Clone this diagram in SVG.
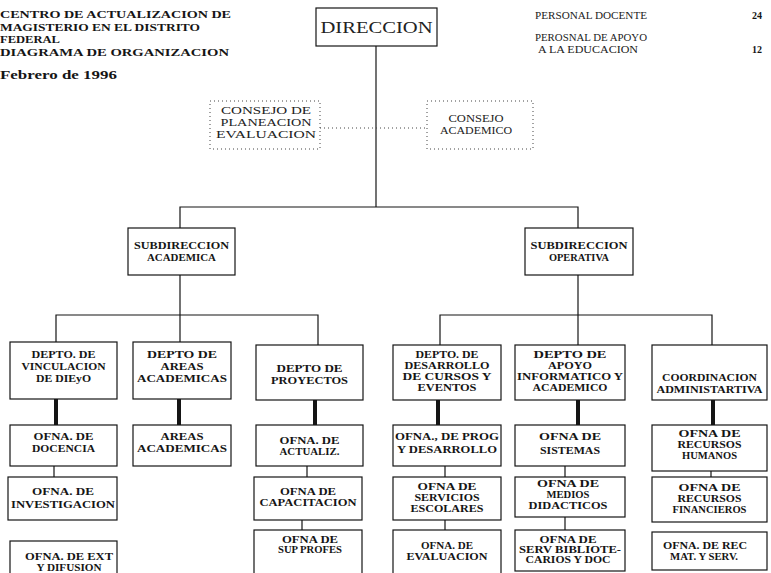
<svg xmlns="http://www.w3.org/2000/svg" width="771" height="573" viewBox="0 0 771 573">
<style>
.box{fill:#fff;stroke:#151515;stroke-width:1.2}
.dot{fill:#fff;stroke:#444;stroke-width:1;stroke-dasharray:1 3}
.ln{fill:none;stroke:#151515;stroke-width:1.2}
.thk{fill:none;stroke:#151515;stroke-width:4}
.dl{fill:none;stroke:#444;stroke-width:1;stroke-dasharray:1 3}
.t{font-family:"Liberation Serif",serif;font-weight:bold;font-size:9.5px;fill:#151515;text-anchor:middle}
.c{font-family:"Liberation Serif",serif;font-size:10px;fill:#222;text-anchor:middle}
.h{font-family:"Liberation Serif",serif;font-weight:bold;font-size:10px;fill:#151515}
.r{font-family:"Liberation Serif",serif;font-size:10px;fill:#222}
</style>
<rect width="771" height="573" fill="#fff"/>
<g id="header">
<text class="h" x="0" y="18" textLength="231" lengthAdjust="spacingAndGlyphs">CENTRO DE ACTUALIZACION DE</text>
<text class="h" x="0" y="31" textLength="200" lengthAdjust="spacingAndGlyphs">MAGISTERIO EN EL DISTRITO</text>
<text class="h" x="0" y="43" textLength="60" lengthAdjust="spacingAndGlyphs">FEDERAL</text>
<text class="h" x="0" y="56" textLength="229" lengthAdjust="spacingAndGlyphs">DIAGRAMA DE ORGANIZACION</text>
<text class="h" x="0" y="79" style="font-size:12px" textLength="117" lengthAdjust="spacingAndGlyphs">Febrero de 1996</text>
<text class="r" x="535" y="19" textLength="112" lengthAdjust="spacingAndGlyphs">PERSONAL DOCENTE</text>
<text class="h" x="752" y="19">24</text>
<text class="r" x="535" y="41" textLength="112" lengthAdjust="spacingAndGlyphs">PEROSNAL DE APOYO</text>
<text class="r" x="538" y="53" textLength="100" lengthAdjust="spacingAndGlyphs">A LA EDUCACION</text>
<text class="h" x="752" y="53">12</text>
</g>
<g id="connectors">
<path class="ln" d="M376,46 V207"/>
<path class="dl" d="M320,128 H427"/>
<path class="ln" d="M180,228 V207 H578 V228"/>
<path class="ln" d="M180,275 V342"/>
<path class="ln" d="M56,342 V315 H318 V345"/>
<path class="ln" d="M578,275 V345"/>
<path class="ln" d="M440,345 V315 H712 V345"/>
<path class="thk" d="M56,399 V425 M179,399 V425 M315,400 V425 M438,400 V425 M578,400 V425 M713,400 V425"/>
<path class="ln" d="M54,466 V477 M307,466 V477 M445,466 V477 M565,466 V477 M711,471 V477"/>
<path class="ln" d="M302,520 V530 M445,520 V530 M565,517 V530 M54,510 V520"/>
</g>
<g id="direccion">
<rect class="box" x="316" y="8" width="121" height="38"/>
<text class="c" x="376.5" y="33" style="font-size:16px" textLength="112" lengthAdjust="spacingAndGlyphs">DIRECCION</text>
</g>
<g id="consejo-planeacion">
<rect class="dot" x="210" y="101" width="110" height="48"/>
<text class="c" x="266" y="114" textLength="90" lengthAdjust="spacingAndGlyphs">CONSEJO DE</text>
<text class="c" x="266" y="126" textLength="91" lengthAdjust="spacingAndGlyphs">PLANEACION</text>
<text class="c" x="266" y="138" textLength="100" lengthAdjust="spacingAndGlyphs">EVALUACION</text>
</g>
<g id="consejo-academico">
<rect class="dot" x="427" y="101" width="106" height="48"/>
<text class="c" x="476" y="122" textLength="55" lengthAdjust="spacingAndGlyphs">CONSEJO</text>
<text class="c" x="476" y="134" textLength="72" lengthAdjust="spacingAndGlyphs">ACADEMICO</text>
</g>
<g id="subdireccion-academica">
<rect class="box" x="128" y="228" width="107" height="47"/>
<text class="t" x="181.5" y="249" textLength="95" lengthAdjust="spacingAndGlyphs">SUBDIRECCION</text>
<text class="t" x="181.5" y="261" textLength="69" lengthAdjust="spacingAndGlyphs">ACADEMICA</text>
</g>
<g id="subdireccion-operativa">
<rect class="box" x="525" y="228" width="108" height="47"/>
<text class="t" x="579" y="249" textLength="97" lengthAdjust="spacingAndGlyphs">SUBDIRECCION</text>
<text class="t" x="579" y="261" textLength="60" lengthAdjust="spacingAndGlyphs">OPERATIVA</text>
</g>
<g id="depto-vinculacion">
<rect class="box" x="10" y="342" width="107" height="57"/>
<text class="t" x="63.5" y="358" textLength="64" lengthAdjust="spacingAndGlyphs">DEPTO. DE</text>
<text class="t" x="63.5" y="370" textLength="84" lengthAdjust="spacingAndGlyphs">VINCULACION</text>
<text class="t" x="63.5" y="382" textLength="55" lengthAdjust="spacingAndGlyphs">DE DIEyO</text>
</g>
<g id="depto-areas">
<rect class="box" x="133" y="342" width="98" height="57"/>
<text class="t" x="182" y="358" textLength="70" lengthAdjust="spacingAndGlyphs">DEPTO DE</text>
<text class="t" x="182" y="370" textLength="43" lengthAdjust="spacingAndGlyphs">AREAS</text>
<text class="t" x="182" y="382" textLength="90" lengthAdjust="spacingAndGlyphs">ACADEMICAS</text>
</g>
<g id="depto-proyectos">
<rect class="box" x="256" y="345" width="107" height="55"/>
<text class="t" x="309.5" y="372" textLength="66" lengthAdjust="spacingAndGlyphs">DEPTO DE</text>
<text class="t" x="309.5" y="384" textLength="77" lengthAdjust="spacingAndGlyphs">PROYECTOS</text>
</g>
<g id="depto-desarrollo">
<rect class="box" x="393" y="345" width="108" height="55"/>
<text class="t" x="447" y="358" textLength="63" lengthAdjust="spacingAndGlyphs">DEPTO. DE</text>
<text class="t" x="447" y="369" textLength="85" lengthAdjust="spacingAndGlyphs">DESARROLLO</text>
<text class="t" x="447" y="380" textLength="89" lengthAdjust="spacingAndGlyphs">DE CURSOS Y</text>
<text class="t" x="447" y="391" textLength="59" lengthAdjust="spacingAndGlyphs">EVENTOS</text>
</g>
<g id="depto-apoyo">
<rect class="box" x="515" y="345" width="110" height="55"/>
<text class="t" x="570" y="358" textLength="73" lengthAdjust="spacingAndGlyphs">DEPTO DE</text>
<text class="t" x="570" y="369" textLength="44" lengthAdjust="spacingAndGlyphs">APOYO</text>
<text class="t" x="570" y="380" textLength="106" lengthAdjust="spacingAndGlyphs">INFORMATICO Y</text>
<text class="t" x="570" y="391" textLength="75" lengthAdjust="spacingAndGlyphs">ACADEMICO</text>
</g>
<g id="coordinacion">
<rect class="box" x="652" y="345" width="115" height="55"/>
<text class="t" x="709.5" y="381" textLength="95" lengthAdjust="spacingAndGlyphs">COORDINACION</text>
<text class="t" x="709.5" y="393" textLength="106" lengthAdjust="spacingAndGlyphs">ADMINISTARTIVA</text>
</g>
<g id="ofna-docencia">
<rect class="box" x="10" y="425" width="107" height="41"/>
<text class="t" x="63.5" y="440" textLength="60" lengthAdjust="spacingAndGlyphs">OFNA. DE</text>
<text class="t" x="63.5" y="452" textLength="63" lengthAdjust="spacingAndGlyphs">DOCENCIA</text>
</g>
<g id="areas-academicas">
<rect class="box" x="133" y="425" width="98" height="41"/>
<text class="t" x="182" y="440" textLength="43" lengthAdjust="spacingAndGlyphs">AREAS</text>
<text class="t" x="182" y="452" textLength="90" lengthAdjust="spacingAndGlyphs">ACADEMICAS</text>
</g>
<g id="ofna-actualiz">
<rect class="box" x="256" y="425" width="107" height="41"/>
<text class="t" x="309.5" y="444" textLength="60" lengthAdjust="spacingAndGlyphs">OFNA. DE</text>
<text class="t" x="309.5" y="455" textLength="60" lengthAdjust="spacingAndGlyphs">ACTUALIZ.</text>
</g>
<g id="ofna-prog">
<rect class="box" x="393" y="425" width="108" height="41"/>
<text class="t" x="447" y="440" textLength="104" lengthAdjust="spacingAndGlyphs">OFNA., DE PROG</text>
<text class="t" x="447" y="453" textLength="100" lengthAdjust="spacingAndGlyphs">Y DESARROLLO</text>
</g>
<g id="ofna-sistemas">
<rect class="box" x="515" y="425" width="110" height="41"/>
<text class="t" x="570" y="440" textLength="62" lengthAdjust="spacingAndGlyphs">OFNA DE</text>
<text class="t" x="570" y="454" textLength="60" lengthAdjust="spacingAndGlyphs">SISTEMAS</text>
</g>
<g id="ofna-rh">
<rect class="box" x="652" y="425" width="115" height="46"/>
<text class="t" x="709.5" y="437" textLength="62" lengthAdjust="spacingAndGlyphs">OFNA DE</text>
<text class="t" x="709.5" y="448" textLength="64" lengthAdjust="spacingAndGlyphs">RECURSOS</text>
<text class="t" x="709.5" y="459" textLength="55" lengthAdjust="spacingAndGlyphs">HUMANOS</text>
</g>
<g id="ofna-investigacion">
<rect class="box" x="8" y="477" width="109" height="43"/>
<text class="t" x="63" y="495" textLength="62" lengthAdjust="spacingAndGlyphs">OFNA. DE</text>
<text class="t" x="63" y="508" textLength="104" lengthAdjust="spacingAndGlyphs">INVESTIGACION</text>
</g>
<g id="ofna-capacitacion">
<rect class="box" x="254" y="477" width="108" height="43"/>
<text class="t" x="308" y="495" textLength="56" lengthAdjust="spacingAndGlyphs">OFNA DE</text>
<text class="t" x="308" y="506" textLength="97" lengthAdjust="spacingAndGlyphs">CAPACITACION</text>
</g>
<g id="ofna-servicios">
<rect class="box" x="393" y="477" width="108" height="43"/>
<text class="t" x="447" y="490" textLength="59" lengthAdjust="spacingAndGlyphs">OFNA DE</text>
<text class="t" x="447" y="501" textLength="65" lengthAdjust="spacingAndGlyphs">SERVICIOS</text>
<text class="t" x="447" y="512" textLength="73" lengthAdjust="spacingAndGlyphs">ESCOLARES</text>
</g>
<g id="ofna-medios">
<rect class="box" x="515" y="477" width="110" height="40"/>
<text class="t" x="568" y="487" textLength="62" lengthAdjust="spacingAndGlyphs">OFNA DE</text>
<text class="t" x="568" y="498" textLength="43" lengthAdjust="spacingAndGlyphs">MEDIOS</text>
<text class="t" x="568" y="509" textLength="79" lengthAdjust="spacingAndGlyphs">DIDACTICOS</text>
</g>
<g id="ofna-financieros">
<rect class="box" x="652" y="477" width="115" height="45"/>
<text class="t" x="709.5" y="491" textLength="62" lengthAdjust="spacingAndGlyphs">OFNA DE</text>
<text class="t" x="709.5" y="502" textLength="64" lengthAdjust="spacingAndGlyphs">RECURSOS</text>
<text class="t" x="709.5" y="513" textLength="74" lengthAdjust="spacingAndGlyphs">FINANCIEROS</text>
</g>
<g id="ofna-ext">
<rect class="box" x="10" y="541" width="107" height="40"/>
<text class="t" x="69" y="560" textLength="88" lengthAdjust="spacingAndGlyphs">OFNA. DE EXT</text>
<text class="t" x="69" y="571" textLength="65" lengthAdjust="spacingAndGlyphs">Y DIFUSION</text>
</g>
<g id="ofna-sup">
<rect class="box" x="254" y="530" width="108" height="50"/>
<text class="t" x="310" y="543" textLength="56" lengthAdjust="spacingAndGlyphs">OFNA DE</text>
<text class="t" x="310" y="553" textLength="64" lengthAdjust="spacingAndGlyphs">SUP PROFES</text>
</g>
<g id="ofna-evaluacion">
<rect class="box" x="393" y="530" width="108" height="50"/>
<text class="t" x="447" y="549" textLength="52" lengthAdjust="spacingAndGlyphs">OFNA. DE</text>
<text class="t" x="447" y="560" textLength="81" lengthAdjust="spacingAndGlyphs">EVALUACION</text>
</g>
<g id="ofna-serv-biblio">
<rect class="box" x="515" y="530" width="110" height="41"/>
<text class="t" x="568" y="543" textLength="57" lengthAdjust="spacingAndGlyphs">OFNA DE</text>
<text class="t" x="570" y="553" textLength="102" lengthAdjust="spacingAndGlyphs">SERV BIBLIOTE-</text>
<text class="t" x="568" y="563" textLength="85" lengthAdjust="spacingAndGlyphs">CARIOS Y DOC</text>
</g>
<g id="ofna-rec-mat">
<rect class="box" x="652" y="532" width="115" height="38"/>
<text class="t" x="705" y="549" textLength="84" lengthAdjust="spacingAndGlyphs">OFNA. DE REC</text>
<text class="t" x="704" y="560" textLength="68" lengthAdjust="spacingAndGlyphs">MAT. Y SERV.</text>
</g>
</svg>
